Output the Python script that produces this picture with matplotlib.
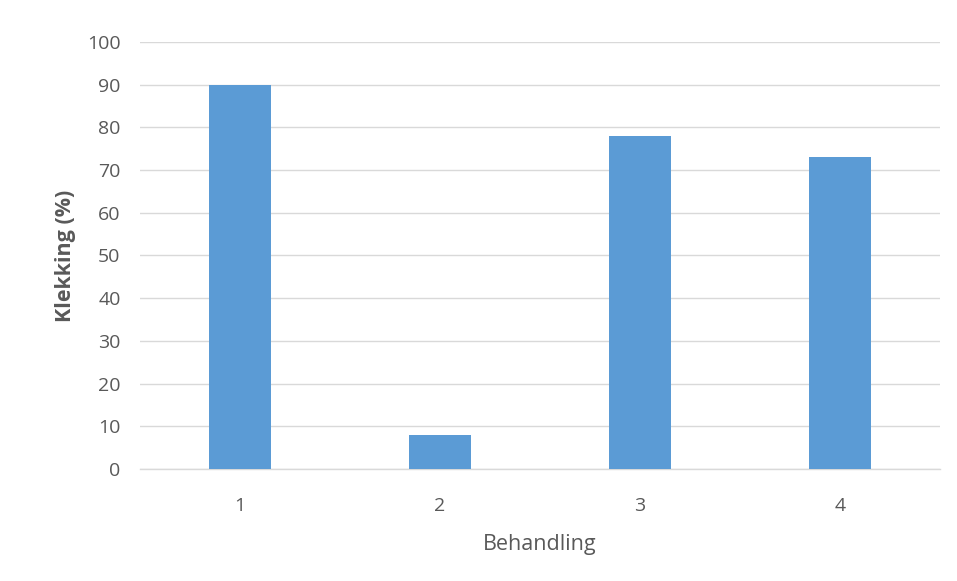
import matplotlib
matplotlib.use('Agg')
import matplotlib.pyplot as plt

# Data ####################################################################
behandling = ['1', '2', '3', '4']  # categories
klekking = [90, 8, 78, 73]  # hatching (%)
yticks = [0, 10, 20, 30, 40, 50, 60, 70, 80, 90, 100]

# Style ###################################################################
plt.rcParams['font.family'] = ['Open Sans', 'DejaVu Sans']
textcol = '#595959'
barcol = '#5B9BD5'
gridcol = '#D9D9D9'

fig = plt.figure(figsize=(9.57, 5.81), dpi=100)
ax = fig.add_axes([140 / 957, 1 - 469 / 581, 800 / 957, 427 / 581])

xpos = list(range(1, len(behandling) + 1))
ax.bar(xpos, klekking, width=0.31, color=barcol, zorder=3)

ax.set_xlim(0.5, 4.5)
ax.set_ylim(0, 100)
ax.set_yticks(yticks)
ax.set_xticks(xpos)
ax.set_xticklabels(behandling)

ax.yaxis.grid(True, color=gridcol, linewidth=1.0, zorder=0)
ax.set_axisbelow(True)
for s in ['top', 'right', 'left']:
    ax.spines[s].set_visible(False)
ax.spines['bottom'].set_color(gridcol)
ax.spines['bottom'].set_linewidth(1.0)

ax.tick_params(axis='both', length=0, labelsize=14, colors=textcol)
ax.tick_params(axis='y', pad=14)
ax.tick_params(axis='x', pad=20)

ax.set_xlabel('Behandling', fontsize=15.5, color=textcol, labelpad=14)
ax.set_ylabel('Klekking (%)', fontsize=15.5, color=textcol, fontweight='bold', labelpad=8)

fig.savefig('out.png', dpi=100)
